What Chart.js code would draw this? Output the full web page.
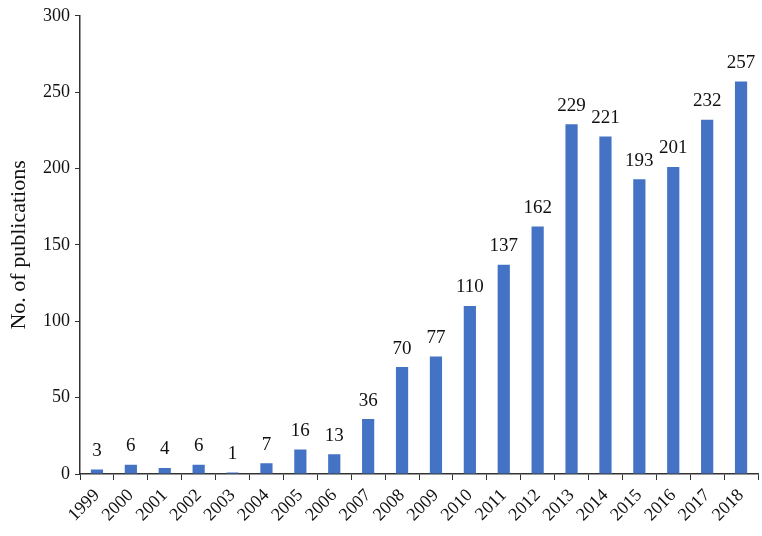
<!DOCTYPE html>
<html>
<head>
<meta charset="utf-8">
<script src="https://cdn.jsdelivr.net/npm/chart.js@4/dist/chart.umd.min.js"></script>
<style>
  html, body { margin: 0; padding: 0; background: #fff; }
  #wrap { width: 762px; height: 536px; }
</style>
</head>
<body>
<div id="wrap"><canvas id="myChart"></canvas></div>
<script>
const years = ['1999', '2000', '2001', '2002', '2003', '2004', '2005', '2006', '2007', '2008',
  '2009', '2010', '2011', '2012', '2013', '2014', '2015', '2016', '2017', '2018'];
const publications = [3, 6, 4, 6, 1, 7, 16, 13, 36, 70, 77, 110, 137, 162, 229, 221, 193, 201, 232, 257];
const yMax = 300;
const yStep = 50;

const serif = 'Liberation Serif';
const axisColor = '#333';
const textColor = '#111';

// draws the numbers above each bar
const valueLabels = {
  id: 'valueLabels',
  afterDatasetsDraw(chart) {
    const ctx = chart.ctx;
    const meta = chart.getDatasetMeta(0);
    ctx.save();
    ctx.font = '19px "' + serif + '"';
    ctx.fillStyle = textColor;
    ctx.textAlign = 'center';
    ctx.textBaseline = 'bottom';
    meta.data.forEach((bar, i) => {
      ctx.fillText(String(publications[i]), bar.x, bar.y - 9);
    });
    ctx.restore();
  }
};

var ctx = document.getElementById('myChart').getContext('2d');
var myChart = new Chart(ctx, {
  type: 'bar',
  data: {
    labels: years,
    datasets: [{
      label: 'No. of publications',
      data: publications,
      backgroundColor: '#4472C4',
      borderWidth: 0,
      barPercentage: 0.36,
      categoryPercentage: 1.0
    }]
  },
  options: {
    responsive: true,
    maintainAspectRatio: false,
    animation: false,
    layout: { padding: { top: 13, right: 4, left: 6, bottom: 0 } },
    plugins: {
      legend: { display: false },
      tooltip: { enabled: false }
    },
    scales: {
      x: {
        grid: {
          offset: true,
          drawOnChartArea: false,
          drawTicks: true,
          tickLength: 6,
          color: axisColor
        },
        border: { color: axisColor, width: 1.5 },
        ticks: {
          font: { family: serif, size: 18 },
          color: textColor,
          autoSkip: false,
          maxRotation: 45,
          minRotation: 45,
          padding: 5
        },
        afterFit(scale) { scale.height = 62; }
      },
      y: {
        min: 0,
        max: yMax,
        grid: {
          drawOnChartArea: false,
          drawTicks: true,
          tickLength: 5,
          color: axisColor
        },
        border: { color: axisColor, width: 1.5 },
        ticks: {
          stepSize: yStep,
          font: { family: serif, size: 18 },
          color: textColor,
          padding: 5
        },
        title: {
          display: true,
          text: 'No. of publications',
          font: { family: serif, size: 22 },
          color: textColor,
          padding: { top: 0, bottom: 3 }
        },
        afterFit(scale) { scale.width = 74; }
      }
    }
  },
  plugins: [valueLabels]
});
</script>
</body>
</html>
